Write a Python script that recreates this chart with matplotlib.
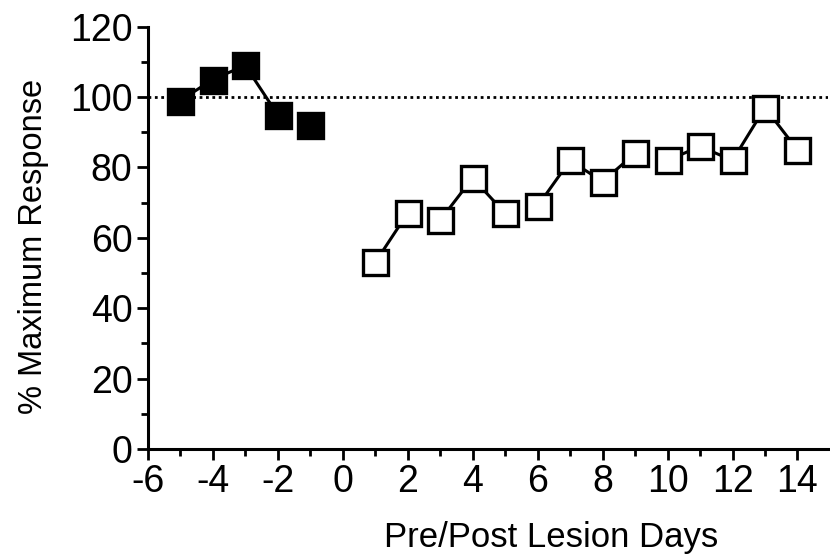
import matplotlib.pyplot as plt
from matplotlib.ticker import MultipleLocator

plt.rcParams['font.family'] = ['Liberation Sans', 'DejaVu Sans']
plt.rcParams['axes.unicode_minus'] = False

# pre-lesion days (filled squares)
pre_days = [-5, -4, -3, -2, -1]
pre_resp = [99, 105, 109, 95, 92]
pre_groups = [[-5, -4, -3, -2], [-1]]

# post-lesion days (open squares)
post_days = [1, 2, 3, 4, 5, 6, 7, 8, 9, 10, 11, 12, 13, 14]
post_resp = [53, 67, 65, 77, 67, 69, 82, 76, 84, 82, 86, 82, 97, 85]
post_groups = [[1, 2], [3, 4, 5], [6, 7, 8, 9], [10, 11, 12, 13, 14]]

fig = plt.figure(figsize=(8.3, 5.57), dpi=100)
ax = fig.add_axes([0.178, 0.194, 0.82, 0.758])

ax.axhline(100, color='black', lw=2, ls=(0, (1, 1.3)), zorder=1)

def draw(days, resp, groups, face):
    lookup = dict(zip(days, resp))
    for g in groups:
        ax.plot(g, [lookup[d] for d in g], color='black', lw=2.2, zorder=2)
    ax.plot(days, resp, ls='none', marker='s', ms=18, mfc=face,
            mec='black', mew=2.4, zorder=3)

draw(pre_days, pre_resp, pre_groups, 'black')
draw(post_days, post_resp, post_groups, 'white')

ax.set_xlim(-6, 14.95)
ax.set_ylim(0, 120)
ax.set_xticks(range(-6, 15, 2))
ax.set_yticks(range(0, 121, 20))
ax.xaxis.set_minor_locator(MultipleLocator(1))
ax.yaxis.set_minor_locator(MultipleLocator(10))
ax.tick_params(which='major', length=8, width=2, labelsize=27, pad=3)
ax.tick_params(which='minor', length=5, width=2)

for s in ['top', 'right']:
    ax.spines[s].set_visible(False)
for s in ['left', 'bottom']:
    ax.spines[s].set_linewidth(2.2)

ax.set_xlabel('Pre/Post Lesion Days', fontsize=25, labelpad=10)
ax.xaxis.set_label_coords(0.593, -0.17)
ax.set_ylabel('% Maximum Response', fontsize=23.5)
ax.yaxis.set_label_coords(-0.145, 0.48)

fig.savefig('out.png', dpi=100)
